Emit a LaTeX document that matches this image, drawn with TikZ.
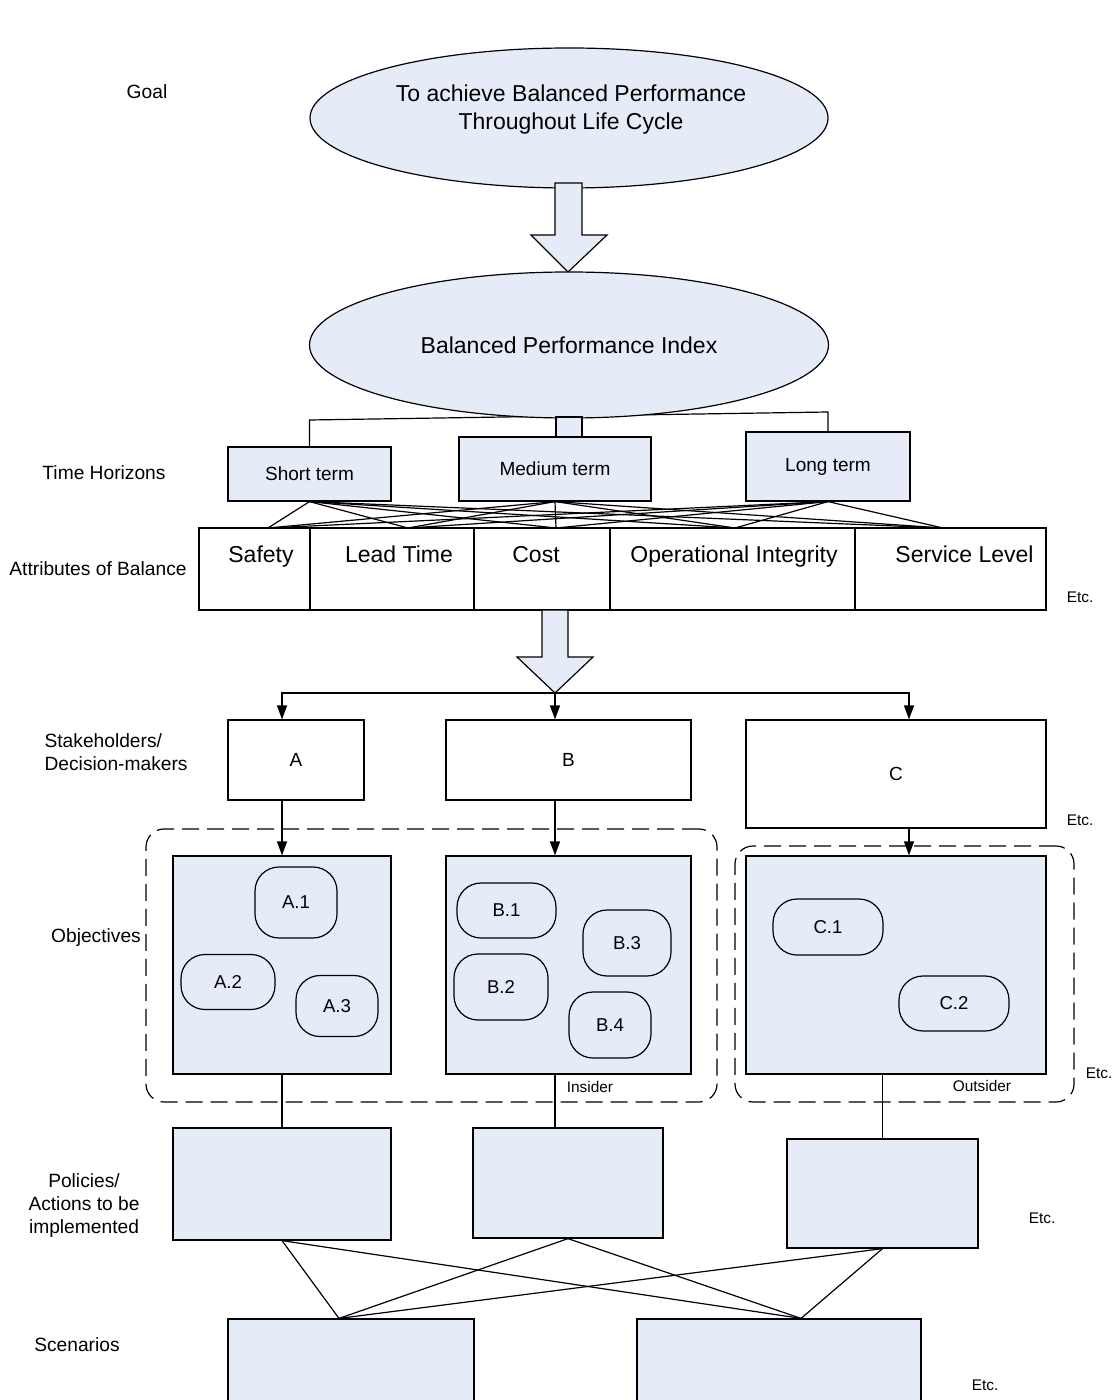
\documentclass[tikz,border=0pt]{standalone}
\usepackage{fontspec}
\setmainfont{Liberation Sans}
\usetikzlibrary{arrows.meta,shapes.geometric}
\definecolor{paleblue}{RGB}{230,236,247}
\begin{document}
\begin{tikzpicture}[x=0.5pt,y=-0.5pt,line width=0.6pt,
    sz/.style 2 args={minimum width=#1*0.5pt,minimum height=#2*0.5pt},
    lab/.style={font=\fontsize{9.6}{11.5}\selectfont,align=center,inner sep=0pt},
    big/.style={font=\fontsize{11.5}{14}\selectfont,align=center},
    mid/.style={font=\fontsize{9.5}{11}\selectfont},
    small/.style={font=\fontsize{7.7}{9}\selectfont,inner sep=0pt},
    oval/.style={draw,fill=paleblue,ellipse,inner sep=0pt},
    box/.style={draw,fill=paleblue,inner sep=0pt},
    plain/.style={draw,fill=white,inner sep=0pt},
    pill/.style={draw,rounded corners=12pt,inner sep=0pt,font=\fontsize{9.3}{11}\selectfont},
    group/.style={draw,dash pattern=on 8.5pt off 4pt,rounded corners=9pt,inner sep=0pt},
    attrtxt/.style={big,inner sep=0pt,anchor=base,yshift=-17.5pt},
    cell/.style 2 args={plain,minimum height=41pt,label={[attrtxt,xshift=#2]north:#1}},
    arr/.style={-{Triangle[length=7pt,width=5pt]}},
    bigarrow/.style={draw,fill=paleblue}]
    \useasboundingbox (0,0) rectangle (1118,1400);

    % row labels
    \node[lab] (lgoal) at (147,92) {Goal};
    \node[lab] (lhor) at (104,473) {Time Horizons};
    \node[lab] (latt) at (98,569) {Attributes of Balance};
    \node[lab,align=left,anchor=west] (lstake) at (44,752) {Stakeholders/\\Decision-makers};
    \node[lab] (lobj) at (96,938) {Objectives};
    \node[lab] (lpol) at (84,1206) {Policies/\\Actions to be\\implemented};
    \node[lab] (lscen) at (77,1345) {Scenarios};

    % goal and index
    \node[oval,sz={518}{140}] (goal) at (569,118) {};
    \node[big] (goaltext) at (571,110) {To achieve Balanced Performance\\Throughout Life Cycle};
    \draw[bigarrow] (555,183) -- (582,183) -- (582,235) -- (607,235) -- (568,272)
        -- (531,235) -- (555,235) -- cycle;

    % time horizons
    \node[box,sz={163}{54},mid] (short) at (309.5,474) {Short term};
    \node[box,sz={192}{64},mid] (medium) at (555,469) {Medium term};
    \node[box,sz={164}{69},mid] (long) at (828,466.5) {Long term};
    \draw (short.north) -- (short.north |- 0,420) -- (long.north |- 0,412) -- (long.north);

    \node[oval,sz={519}{146},big] (bpi) at (569,345) {Balanced Performance Index};
    \draw[bigarrow] (556,417) rectangle (582,437);

    % attributes of balance
    \node[cell={Safety}{3.25pt},minimum width=55.5pt] (safety) at (254.5,569) {};
    \node[cell={Lead Time}{3.5pt},minimum width=82pt] (lead) at (392,569) {};
    \node[cell={Cost}{-3pt},minimum width=68pt] (cost) at (542,569) {};
    \node[cell={Operational Integrity}{0.75pt},minimum width=122.5pt] (oper) at (732.5,569) {};
    \node[cell={Service Level}{7pt},minimum width=95.5pt] (serv) at (950.5,569) {};
    \node[small] (etc1) at (1080,597) {Etc.};

    \foreach \n/\x in {tS/268,tL/408,tC/556,tO/735,tV/943}
        \coordinate (\n) at (\x,528);
    \foreach \h in {short,medium,long}
        \foreach \n in {tS,tL,tC,tO,tV}
            \draw (\h.south) -- (\n);

    \draw[bigarrow] (542,610) -- (568,610) -- (568,657) -- (593,657) -- (555,693)
        -- (517,657) -- (542,657) -- cycle;
    \coordinate (fork) at (555,693);
    \coordinate (colA) at (282,0);
    \coordinate (colB) at (555,0);
    \coordinate (colC) at (909,0);

    % stakeholders
    \node[plain,sz={136}{80},mid] (sA) at (296,760) {A};
    \node[plain,sz={245}{80},mid] (sB) at (568.5,760) {B};
    \node[plain,sz={300}{108},mid] (sC) at (896,774) {C};
    \node[small] (etc2) at (1080,820) {Etc.};

    % objectives
    \node[group,sz={571}{273}] (insider) at (431.5,965.5) {};
    \node[group,sz={339}{256}] (outsider) at (904.5,974) {};
    \node[small] (ins) at (590,1087) {Insider};
    \node[small] (outs) at (982,1086) {Outsider};
    \node[small] (etc3) at (1099,1073) {Etc.};

    \node[box,sz={218}{218}] (oA) at (282,965) {};
    \node[box,sz={245}{218}] (oB) at (568.5,965) {};
    \node[box,sz={300}{218}] (oC) at (896,965) {};

    \node[pill,sz={82}{71}] (a1) at (296,902.5) {A.1};
    \node[pill,sz={94}{55}] (a2) at (228,982) {A.2};
    \node[pill,sz={82}{61}] (a3) at (337,1006) {A.3};
    \node[pill,sz={99}{55}] (b1) at (506.5,910.5) {B.1};
    \node[pill,sz={94}{66}] (b2) at (501,987) {B.2};
    \node[pill,sz={88}{66}] (b3) at (627,943) {B.3};
    \node[pill,sz={82}{66}] (b4) at (610,1025) {B.4};
    \node[pill,sz={110}{56}] (c1) at (828,927) {C.1};
    \node[pill,sz={110}{55}] (c2) at (954,1003.5) {C.2};

    \draw[arr] (fork) -| (sA.north -| colA);
    \draw[arr] (fork) -- (sB.north -| colB);
    \draw[arr] (fork) -| (sC.north -| colC);
    \draw[arr] (sA.south -| colA) -- (oA.north -| colA);
    \draw[arr] (sB.south -| colB) -- (oB.north -| colB);
    \draw[arr] (sC.south -| colC) -- (oC.north -| colC);

    % policies and scenarios
    \node[box,sz={218}{112}] (pA) at (282,1184) {};
    \node[box,sz={190}{110}] (pB) at (568,1183) {};
    \node[box,sz={191}{109}] (pC) at (882.5,1193.5) {};
    \node[small] (etc4) at (1042,1218) {Etc.};
    \draw (oA.south -| colA) -- (pA.north -| colA);
    \draw (oB.south -| colB) -- (pB.north -| colB);
    \draw (oC.south -| pC.north) -- (pC.north);

    \node[box,sz={246}{102}] (scA) at (351,1370) {};
    \node[box,sz={284}{102}] (scB) at (779,1370) {};
    \node[small] (etc5) at (985,1385) {Etc.};
    \coordinate (inA) at ([xshift=-6pt]scA.north);
    \coordinate (inB) at ([xshift=11pt]scB.north);
    \foreach \p in {pA,pB,pC} {
        \draw (\p.south) -- (inA);
        \draw (\p.south) -- (inB);
    }
\end{tikzpicture}
\end{document}
